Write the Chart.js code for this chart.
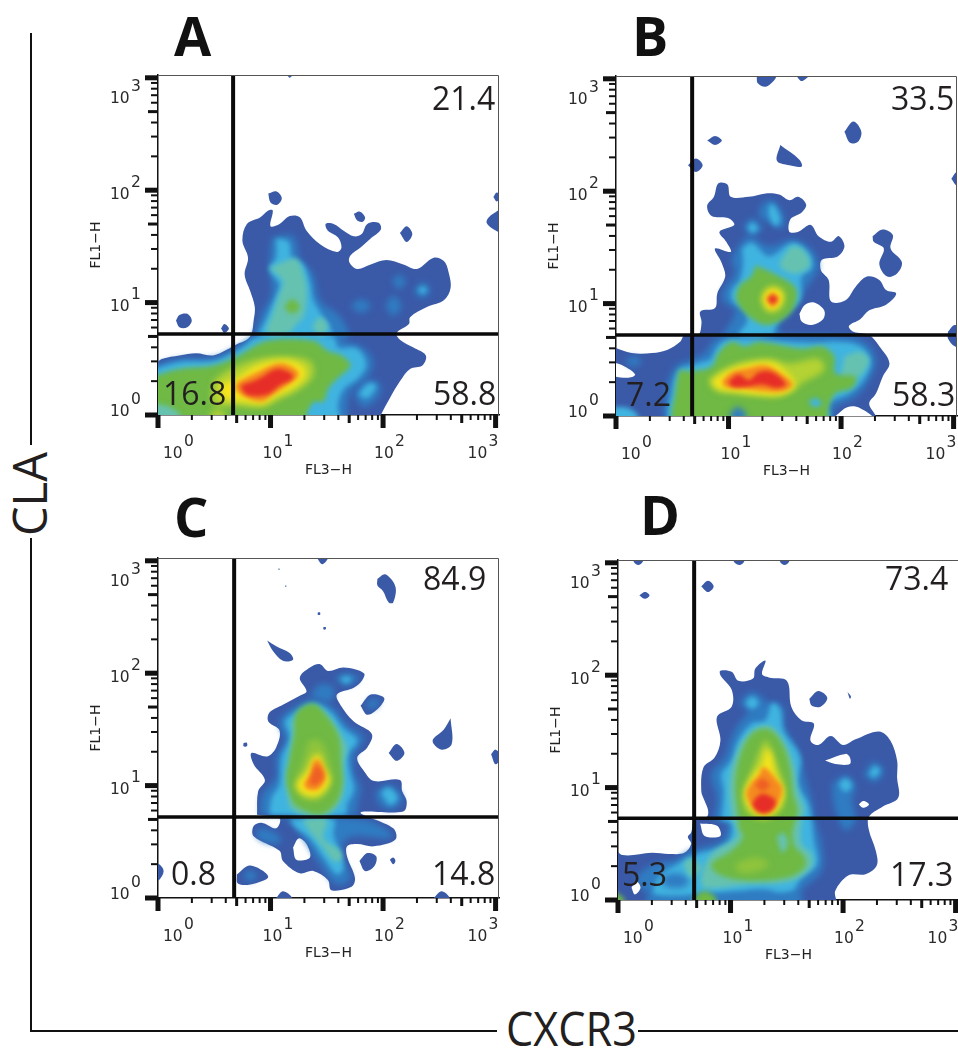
<!DOCTYPE html>
<html>
<head>
<meta charset="utf-8">
<script src="https://cdn.jsdelivr.net/npm/chart.js@4"></script>
<style>
  html, body { margin: 0; padding: 0; background: #fff; overflow: hidden; width: 958px; height: 1049px; }
  canvas { position: absolute; }
  .rule { position: absolute; background: #111; }
  .txt { position: absolute; white-space: nowrap; line-height: 1; color: #231f20; font-family: "Open Sans", sans-serif; }
  .pct { font-size: 32px; }
  .letter { font-size: 54px; font-weight: 700; color: #111; }
  .big { font-size: 47px; }
</style>
</head>
<body>
<script>
// axis ticks (FL3-H and FL1-H, both log)
const tickValues = [1,2,3,4,5,6,7,8,9,10,20,30,40,50,60,70,80,90,100,200,300,400,500,600,700,800,900,1000];
const tickExponents = ['0','1','2','3'];

// quadrant gates per panel: [FL3-H, FL1-H]
const gatesA = [4.65, 5.25];
const gatesB = [4.75, 5.25];
const gatesC = [4.75, 5.25];
const gatesD = [4.75, 5.35];

// quadrant percentages per panel
const pctA = ['21.4', '16.8', '58.8'];
const pctB = ['33.5', '7.2', '58.3'];
const pctC = ['84.9', '0.8', '14.8'];
const pctD = ['73.4', '5.3', '17.3'];

// density contours: [FL3-H, FL1-H] in hundredths of a decade
// panel A
const aBlue = [[-3,45],[4,50],[19,53],[34,55],[49,53],[61,58],[70,63],[79,67],[83,72],[85,84],[86,96],[82,110],[77,125],[80,140],[75,155],[79,170],[91,176],[98,182],[102,182],[100,168],[108,170],[117,177],[126,176],[132,164],[144,152],[159,145],[163,149],[160,158],[151,164],[149,170],[156,170],[165,164],[174,159],[181,161],[186,170],[196,171],[198,165],[189,157],[180,149],[171,142],[170,136],[177,130],[189,134],[203,138],[218,134],[230,130],[245,140],[254,137],[258,128],[260,113],[254,102],[239,96],[224,87],[223,81],[212,73],[215,67],[227,60],[238,53],[235,44],[224,41],[215,30],[206,15],[198,0],[195,-7],[-3,-7]];
const aBlob1 = [[98,197],[105,199],[110,193],[106,187],[100,189]];
const aBlob2 = [[174,179],[179,181],[184,176],[182,172],[177,173]];
const aBlob3 = [[215,162],[221,168],[226,161],[221,154]];
const aBlob4 = [[298,194],[301,198],[305,194],[301,190]];
const aBlob5 = [[302,182],[294,176],[292,171],[297,166],[305,163]];
const aBlob6 = [[16,84],[19,89],[26,90],[30,84],[26,78],[19,78]];
const aBlob7 = [[56,77],[59,81],[63,77],[59,73]];
const aBlob8 = [[114,304],[120,304],[117,300]];
const aMidTop = [[101,158],[120,159],[126,140],[138,125],[144,102],[162,87],[168,69],[88,69],[91,87],[101,108],[99,131]];
const aMid1 = [[227,110],[235,118],[242,111],[235,104]];
const aMid2 = [[202,97],[209,106],[216,97],[209,88]];
const aMid3 = [[208,119],[214,125],[220,119],[214,112]];
const aMid4 = [[171,97],[180,103],[189,97],[180,91]];
const aMidLow = [[-3,44],[19,50],[49,51],[64,57],[76,64],[88,71],[158,71],[165,66],[182,60],[191,48],[186,33],[172,22],[168,10],[166,-7],[-3,-7]];
const aMid5 = [[174,18],[183,30],[196,29],[197,18],[183,7]];
const aCyanTop = [[105,157],[116,154],[119,140],[129,134],[135,118],[138,102],[147,87],[153,78],[154,69],[91,69],[97,87],[105,106],[108,116],[99,130],[105,140]];
const aCyanLow = [[-3,41],[19,47],[49,48],[64,54],[76,61],[88,69],[156,69],[160,60],[177,59],[185,45],[178,33],[165,23],[160,10],[159,-7],[-3,-7]];
const aCyan1 = [[231,111],[235,114],[239,111],[235,108]];
const aCyan2 = [[178,18],[187,28],[194,26],[186,15]];
const aTealTop = [[99,131],[114,137],[123,139],[131,119],[132,102],[129,87],[123,81],[116,73],[97,73],[102,90],[108,108],[111,119]];
const aTeal1 = [[137,79],[144,87],[151,79],[144,70]];
const aGreenSpot = [[112,96],[119,103],[126,96],[119,90]];
const aGreenLow = [[-3,35],[19,41],[49,44],[70,52],[97,66],[138,66],[151,57],[163,53],[171,44],[159,32],[151,23],[147,12],[138,11],[132,0],[129,-7],[-3,-7]];
const aTeal2 = [[-3,10],[8,8],[20,0],[18,-7],[-3,-7]];
const aCyan3 = [[135,0],[141,10],[147,0],[141,-5]];
const aLime = [[49,30],[61,39],[85,49],[111,52],[135,48],[138,35],[126,23],[108,14],[93,7],[73,8],[49,10]];
const aLime2 = [[45,0],[52,5],[61,0],[52,-4]];
const aYellow = [[55,27],[70,33],[88,44],[111,49],[128,44],[131,35],[120,24],[105,17],[93,10],[76,12],[58,15]];
const aOrange = [[70,29],[88,38],[108,46],[122,41],[125,35],[114,26],[102,18],[92,12],[76,17],[69,23]];
const aRed = [[73,26],[89,32],[105,41],[117,38],[120,33],[108,26],[97,18],[79,18]];

// panel B
const bBlue = [[-4,62],[14,56],[32,56],[46,59],[57,66],[61,72],[73,72],[76,83],[75,93],[88,96],[90,109],[97,124],[94,136],[88,149],[102,146],[98,155],[92,164],[105,170],[100,176],[85,178],[81,187],[87,195],[91,207],[99,206],[102,195],[118,195],[133,198],[145,197],[154,192],[162,195],[169,188],[165,181],[155,175],[154,164],[162,164],[173,170],[180,160],[191,155],[198,160],[203,151],[197,142],[183,139],[182,130],[189,121],[191,102],[204,103],[213,115],[223,124],[234,121],[240,112],[249,109],[240,99],[225,94],[217,86],[207,80],[211,75],[225,72],[234,62],[243,47],[237,35],[231,20],[225,11],[231,0],[232,-5],[-4,-5]];
const bBlob1 = [[125,303],[142,303],[140,298],[133,293],[126,296]];
const bBlob2 = [[160,303],[171,303],[165,298]];
const bBlob3 = [[203,253],[211,262],[218,253],[215,244],[208,243]];
const bBlob4 = [[81,245],[88,249],[94,245],[88,241]];
const bBlob5 = [[64,223],[71,229],[77,223],[71,217]];
const bBlob6 = [[146,241],[163,228],[165,222],[154,223],[143,227]];
const bBlob7 = [[298,211],[303,217],[309,211],[303,205]];
const bBlob8 = [[295,75],[301,81],[309,75],[308,62],[301,62],[295,69]];
const bBlob9 = [[228,160],[237,166],[246,161],[244,149],[254,137],[250,127],[241,124],[234,135],[238,149],[229,155]];
const bMid1 = [[130,189],[139,192],[149,178],[148,167],[136,172],[127,178]];
const bMid2 = [[113,168],[121,176],[130,167],[121,160]];
const bMidBody = [[109,151],[118,160],[136,151],[157,157],[174,148],[180,133],[174,121],[165,108],[154,90],[145,82],[145,71],[96,71],[103,85],[106,94],[95,103],[97,115],[106,127],[103,139]];
const bMidLow = [[79,56],[88,68],[99,71],[201,71],[222,65],[231,50],[225,32],[213,17],[195,8],[189,-5],[47,-5],[45,23],[53,44],[67,50]];
const bMid3 = [[8,48],[15,53],[23,48],[15,44]];
const bCyan1 = [[136,187],[140,188],[146,175],[142,169],[136,178]];
const bCyan2 = [[117,168],[121,172],[126,167],[121,163]];
const bCyanBody = [[112,149],[121,154],[136,142],[157,154],[171,145],[174,132],[165,124],[164,103],[148,89],[142,80],[139,72],[109,72],[116,83],[115,93],[103,103],[103,112],[110,121],[113,136]];
const bCyanLow = [[84,50],[93,65],[106,69],[174,65],[195,66],[217,62],[226,48],[220,32],[207,20],[189,11],[189,-5],[50,-5],[50,23],[56,41],[67,45]];
const bCyan3 = [[-2,8],[11,7],[20,0],[17,-5],[-4,-5]];
const bTeal1 = [[145,136],[157,151],[168,146],[172,134],[161,127],[149,130]];
const bTeal2 = [[203,53],[217,57],[225,50],[216,35],[201,32]];
const bGreenBody = [[124,134],[142,126],[160,113],[156,93],[136,81],[120,87],[107,103],[110,116],[120,124]];
const bGreenLow = [[56,41],[67,40],[85,44],[91,56],[103,66],[115,62],[127,66],[165,60],[183,62],[194,53],[195,38],[213,35],[210,25],[195,20],[189,8],[186,-5],[53,-5],[53,23]];
const bMid4 = [[100,0],[108,8],[116,0],[108,-5]];
const bCyan4 = [[171,13],[177,16],[183,11],[176,8]];
const bYellowEye = [[129,104],[132,111],[139,115],[148,111],[149,102],[143,94],[134,94]];
const bOrangeEye = [[133,104],[139,110],[145,104],[139,97]];
const bRedEye = [[135,104],[139,107],[143,104],[139,100]];
const bLime = [[82,32],[94,41],[112,48],[136,51],[154,47],[180,51],[185,41],[165,29],[157,22],[142,17],[106,20],[88,23]];
const bYellow = [[85,31],[97,39],[113,45],[136,48],[148,42],[159,28],[149,20],[133,19],[106,22],[90,25]];
const bOrange = [[94,31],[103,39],[115,42],[133,45],[145,39],[157,28],[148,22],[133,22],[109,25],[97,26]];
const bRed = [[100,31],[109,37],[118,32],[127,39],[139,39],[151,28],[142,25],[130,28],[115,26],[103,26]];
const bHole1 = [[195,0],[206,8],[217,7],[228,-2],[195,-5]];
const bHole2 = [[-4,48],[6,45],[17,37],[10,34],[-4,37]];
const bHole3 = [[163,91],[168,99],[176,101],[185,94],[184,86],[174,81],[165,84]];

// panel C
const cBlue = [[88,74],[89,95],[95,105],[85,119],[83,129],[97,126],[105,134],[108,149],[98,157],[99,165],[111,172],[126,180],[132,184],[126,196],[135,205],[144,208],[151,202],[165,205],[183,200],[181,193],[174,187],[159,181],[162,172],[174,157],[190,146],[186,134],[177,125],[183,113],[192,104],[215,105],[217,95],[221,86],[218,77],[180,76],[209,62],[211,52],[192,46],[177,48],[168,46],[168,37],[175,18],[172,10],[154,7],[151,16],[138,24],[126,22],[111,33],[108,42],[85,55],[85,64],[92,67],[105,62],[108,71]];
const cBlob1 = [[97,229],[105,224],[117,218],[120,212],[111,211],[102,220]];
const cBlob2 = [[141,303],[151,303],[146,297]];
const cBlob3 = [[195,284],[202,288],[211,277],[209,263],[205,263],[200,273],[195,278]];
const cBlob4 = [[180,171],[189,181],[201,178],[196,169],[186,163]];
const cBlob5 = [[260,160],[261,137],[252,132],[244,140],[254,150]];
const cBlob6 = [[205,129],[212,137],[219,129],[212,122]];
const cBlob7 = [[296,128],[300,132],[305,126],[300,119]];
const cBlob8 = [[179,33],[186,40],[194,37],[192,28],[184,24]];
const cBlob9 = [[206,34],[209,36],[211,33],[209,30]];
const cBlob10 = [[-3,30],[1,30],[5,24],[1,16],[-3,16]];
const cBlob11 = [[70,21],[82,29],[98,19],[82,12],[71,13]];
const cBlob12 = [[105,0],[111,6],[119,0],[111,-4]];
const cBlob13 = [[245,0],[252,6],[259,0],[252,-4]];
const cDot1 = [[142,254],[144,254],[144,252],[142,252]];
const cDot2 = [[147,241],[149,241],[149,239],[147,239]];
const cDot3 = [[76,138],[79,138],[79,135],[76,135]];
const cDot4 = [[107,293],[108,293],[108,292],[107,292]];
const cDot5 = [[113,278],[114,278],[114,277],[113,277]];
const cMidBody = [[91,74],[93,92],[105,107],[105,125],[113,140],[108,157],[120,169],[138,177],[156,169],[168,154],[183,143],[175,128],[174,113],[180,98],[177,83],[175,74]];
const cMidLow = [[111,70],[180,70],[206,59],[206,53],[183,55],[168,53],[163,39],[171,18],[159,12],[144,30],[132,49],[120,65]];
const cMid1 = [[86,57],[92,62],[108,55],[108,49],[94,50]];
const cMid2 = [[156,195],[167,200],[178,196],[168,189]];
const cMid3 = [[135,180],[144,190],[156,187],[153,175]];
const cMid4 = [[193,94],[205,101],[217,89],[209,79],[197,83]];
const cMid5 = [[76,21],[82,25],[88,19],[80,15]];
const cMid6 = [[184,171],[190,177],[197,175],[191,168]];
const cCyanBody = [[99,74],[101,89],[108,101],[110,125],[117,143],[113,157],[123,166],[138,173],[153,166],[165,151],[177,140],[169,128],[171,110],[174,97],[168,83],[166,74]];
const cCyanLow = [[117,70],[156,70],[156,56],[162,39],[165,27],[159,21],[147,36],[135,53],[123,62]];
const cCyan1 = [[162,195],[167,197],[172,195],[167,191]];
const cCyan2 = [[198,94],[205,98],[213,89],[206,83]];
const cTealBody = [[117,80],[114,101],[117,125],[120,146],[120,157],[138,169],[151,162],[162,146],[168,134],[165,119],[165,101],[162,86],[150,74],[129,74]];
const cTealLow = [[128,70],[150,70],[147,53],[162,42],[163,34],[156,33],[146,46],[135,59]];
const cGreen = [[120,84],[114,104],[117,125],[121,146],[123,165],[138,173],[150,162],[161,143],[163,119],[164,101],[158,84],[144,74],[129,78]];
const cOlive = [[134,140],[144,140],[151,125],[154,104],[144,88],[129,89],[122,101],[129,122]];
const cYellow = [[137,125],[143,128],[148,116],[153,104],[143,91],[129,92],[123,101],[132,113]];
const cOrange = [[138,122],[143,123],[149,108],[143,97],[132,97],[130,102],[135,110]];
const cDeep = [[139,117],[143,117],[147,108],[141,101],[135,102]];
const cHole = [[120,45],[125,53],[132,48],[135,36],[123,34]];

// panel D
const dBlue = [[-3,48],[4,40],[30,42],[45,41],[59,42],[65,50],[62,56],[65,60],[68,71],[79,74],[80,80],[77,88],[74,97],[76,118],[86,127],[91,142],[88,163],[101,172],[101,187],[91,200],[91,204],[101,203],[107,195],[120,197],[122,206],[131,213],[128,201],[134,198],[150,195],[154,172],[163,160],[174,157],[171,142],[178,138],[189,146],[200,138],[211,143],[232,150],[242,142],[248,124],[248,109],[249,91],[235,83],[223,74],[223,62],[229,44],[230,31],[220,23],[205,22],[193,8],[193,-5],[-3,-5]];
const dBlob1 = [[74,279],[80,284],[85,279],[80,274]];
const dBlob2 = [[19,271],[24,274],[28,271],[24,268]];
const dBlob3 = [[14,306],[22,306],[22,301],[18,298],[14,301]];
const dBlob4 = [[103,306],[112,306],[112,301],[108,298],[103,301]];
const dBlob5 = [[144,306],[152,306],[152,301],[148,298],[144,301]];
const dBlob6 = [[170,179],[178,186],[186,180],[180,172],[172,173]];
const dBlob7 = [[204,185],[207,181],[206,179]];
const dMidBody = [[85,71],[88,91],[83,112],[95,127],[101,145],[110,160],[128,175],[146,172],[148,154],[160,133],[166,109],[172,89],[175,71],[181,50],[181,26],[163,8],[163,-5],[27,-5],[27,8],[30,23],[50,35],[65,44],[92,53],[97,68]];
const dMid1 = [[15,20],[30,31],[50,32],[45,11],[24,8]];
const dMid2 = [[108,176],[119,185],[131,176],[119,166]];
const dMid3 = [[218,111],[227,123],[236,115],[229,105]];
const dMid4 = [[190,103],[202,111],[211,102],[208,89],[211,71],[202,62],[193,80]];
const dMid6 = [[38,20],[50,24],[62,20],[60,12],[42,12]];
const dCyanBody = [[92,71],[94,97],[92,112],[101,124],[107,142],[119,157],[131,160],[137,175],[144,170],[147,151],[162,127],[160,103],[169,86],[172,71],[174,53],[177,32],[163,20],[154,8],[110,8],[33,5],[36,20],[53,32],[68,40],[97,50],[101,68]];
const dCyan1 = [[113,175],[119,181],[125,175],[119,170]];
const dCyan2 = [[223,112],[228,119],[233,115],[227,109]];
const dCyan3 = [[196,103],[202,108],[208,102],[202,96]];
const dTealBody = [[101,71],[99,103],[104,127],[116,148],[134,155],[147,142],[156,121],[160,97],[166,80],[163,71],[163,50],[172,41],[172,29],[154,17],[116,14],[77,11],[74,20],[83,41],[105,56],[104,68]];
const dTeal1 = [[58,32],[65,37],[74,29],[65,20]];
const dGreen = [[107,71],[104,103],[108,127],[119,148],[134,152],[146,139],[153,118],[156,94],[160,80],[158,71],[155,60],[157,48],[166,38],[166,29],[151,20],[116,17],[89,23],[83,32],[101,44],[111,56],[107,65]];
const dGreen2 = [[65,0],[77,8],[88,0],[77,-5]];
const dGreen3 = [[-3,8],[6,0],[3,-5],[-3,-5]];
const dTeal2 = [[141,56],[147,60],[151,50],[146,42]];
const dMid5 = [[110,0],[116,7],[137,7],[138,-5],[110,-5]];
const dOliveLow = [[104,32],[122,38],[134,32],[122,25],[107,25]];
const dLime = [[119,115],[131,142],[135,136],[143,115],[148,97],[144,80],[131,72],[116,77],[111,94]];
const dYellow = [[131,133],[135,133],[140,112],[147,97],[143,83],[131,75],[119,80],[113,94],[119,109],[128,120]];
const dOrange = [[128,118],[132,117],[140,108],[146,99],[141,84],[131,77],[120,83],[114,94],[119,105],[125,111]];
const dDeep = [[122,102],[128,108],[135,102],[128,97]];
const dRed = [[119,86],[125,93],[131,94],[140,88],[137,80],[129,77],[122,80]];
const dHole1 = [[184,124],[202,130],[206,127],[206,121],[193,121]];
const dHole2 = [[214,85],[218,88],[223,85],[218,82]];
const dHole3 = [[73,68],[88,66],[91,57],[77,57]];
const dHole4 = [[12,11],[16,17],[20,11],[15,5]];

const colors = { blue:'#3a5aa8', mid:'#2f7cc2', cyan:'#40b4e0', teal:'#66c2b0', green:'#6fb944', olive:'#8fc43c', lime:'#b4d233', yellow:'#f7e41b', orange:'#f58a20', deep:'#ee5f24', red:'#e62d27', white:'#ffffff' };
const blurs = { blue:0.5, mid:3, cyan:2.5, teal:2.5, green:2.5, olive:3, lime:3, yellow:3, orange:2, deep:2, red:2, white:0.5 };

const panels = [
  { left:158, top:75, gates:gatesA, layers:[
    ['blue',[aBlue,aBlob1,aBlob2,aBlob3,aBlob4,aBlob5,aBlob6,aBlob7,aBlob8]],
    ['mid',[aMidTop,aMid1,aMid2,aMid3,aMid4,aMidLow,aMid5]],
    ['cyan',[aCyanTop,aCyanLow,aCyan1,aCyan2]],
    ['teal',[aTealTop,aTeal1]],
    ['green',[aGreenSpot,aGreenLow]],
    ['teal',[aTeal2]],
    ['cyan',[aCyan3]],
    ['lime',[aLime,aLime2]],
    ['yellow',[aYellow]],
    ['orange',[aOrange]],
    ['red',[aRed]]
  ]},
  { left:616, top:76, gates:gatesB, layers:[
    ['blue',[bBlue,bBlob1,bBlob2,bBlob3,bBlob4,bBlob5,bBlob6,bBlob7,bBlob8,bBlob9]],
    ['white',[bHole1,bHole2,bHole3]],
    ['mid',[bMid1,bMid2,bMidBody,bMidLow,bMid3]],
    ['cyan',[bCyan1,bCyan2,bCyanBody,bCyanLow,bCyan3]],
    ['teal',[bTeal1,bTeal2]],
    ['green',[bGreenBody,bGreenLow]],
    ['mid',[bMid4]],
    ['cyan',[bCyan4]],
    ['yellow',[bYellowEye]],
    ['orange',[bOrangeEye]],
    ['red',[bRedEye]],
    ['lime',[bLime]],
    ['yellow',[bYellow]],
    ['orange',[bOrange]],
    ['red',[bRed]]
  ]},
  { left:158, top:558, gates:gatesC, layers:[
    ['blue',[cBlue,cBlob1,cBlob2,cBlob3,cBlob4,cBlob5,cBlob6,cBlob7,cBlob8,cBlob9,cBlob10,cBlob11,cBlob12,cBlob13,cDot1,cDot2,cDot3,cDot4,cDot5]],
    ['white',[cHole]],
    ['mid',[cMidBody,cMidLow,cMid1,cMid2,cMid3,cMid4,cMid5,cMid6]],
    ['cyan',[cCyanBody,cCyanLow,cCyan1,cCyan2]],
    ['teal',[cTealBody,cTealLow]],
    ['green',[cGreen]],
    ['olive',[cOlive]],
    ['yellow',[cYellow]],
    ['orange',[cOrange]],
    ['deep',[cDeep]]
  ]},
  { left:618, top:560, gates:gatesD, layers:[
    ['blue',[dBlue,dBlob1,dBlob2,dBlob3,dBlob4,dBlob5,dBlob6,dBlob7]],
    ['mid',[dMidBody,dMid1,dMid2,dMid3,dMid4]],
    ['cyan',[dCyanBody,dCyan1,dCyan2,dCyan3]],
    ['mid',[dMid6]],
    ['teal',[dTealBody,dTeal1]],
    ['green',[dGreen,dGreen2,dGreen3]],
    ['teal',[dTeal2]],
    ['mid',[dMid5]],
    ['olive',[dOliveLow]],
    ['lime',[dLime]],
    ['yellow',[dYellow]],
    ['orange',[dOrange]],
    ['deep',[dDeep]],
    ['red',[dRed]],
    ['white',[dHole1,dHole2,dHole3,dHole4]]
  ]}
];

const plotW = 341, plotH = 340, padLeft = 70, padTop = 15, padBottom = 64, padRight = 4;
const xMax = 1072, yMax = 1059;
// nudges of the tick labels against their ticks
const xLabelDx = [5, -8, -9, -28];
const yLabelDy = [1, 8, 9, 25];

function toXY(p) {
  return { x: Math.pow(10, p[0] / 100), y: Math.pow(10, p[1] / 100) };
}

function contourDatasets(panel) {
  const out = [];
  panel.layers.forEach(([name, shapes]) => {
    shapes.forEach(shape => {
      const pts = shape.concat([shape[0]]).map(toXY);
      out.push({
        data: pts, showLine: true, fill: 'shape', tension: 0.35, pointRadius: 0, borderWidth: 0,
        backgroundColor: colors[name], borderColor: colors[name], softness: blurs[name], order: -out.length
      });
    });
  });
  return out;
}

// soft colour steps, like the smoothed density plot
const softEdges = {
  id: 'softEdges',
  beforeDatasetsDraw(chart) {
    chart.ctx.filter = 'blur(' + chart.data.datasets[0].softness + 'px)';
  },
  afterDatasetDraw(chart, args) {
    const next = chart.data.datasets[args.index + 1];
    chart.ctx.filter = next && next.softness ? 'blur(' + next.softness + 'px)' : 'none';
  },
  afterDatasetsDraw(chart) {
    chart.ctx.filter = 'none';
  }
};

const axisMarks = {
  id: 'axisMarks',
  afterDraw(chart) {
    const { ctx, chartArea: a, scales: { x, y } } = chart;
    ctx.save();
    ctx.strokeStyle = '#555';
    ctx.lineWidth = 1;
    ctx.beginPath();
    ctx.moveTo(a.left, a.top + 0.5);
    ctx.lineTo(a.right - 0.5, a.top + 0.5);
    ctx.lineTo(a.right - 0.5, a.bottom);
    ctx.stroke();
    ctx.fillStyle = '#111';
    tickValues.forEach(v => {
      const lead = v / Math.pow(10, Math.floor(Math.log10(v) + 1e-9));
      const major = Math.abs(lead - 1) < 1e-9, half = Math.abs(lead - 5) < 1e-9;
      const w = major ? 5 : half ? 3 : 2;
      const px = x.getPixelForValue(v), py = y.getPixelForValue(v);
      ctx.fillRect(px - w / 2, a.bottom, w, major ? 13 : half ? 8 : 5);
      const len = major ? 13 : half ? 10 : 7;
      ctx.fillRect(a.left - len, py - w / 2, len, w);
    });
    ctx.fillStyle = '#2a2a2a';
    ctx.font = '15.5px "DejaVu Sans"';
    ctx.textAlign = 'left';
    ctx.textBaseline = 'alphabetic';
    tickExponents.forEach((e, i) => {
      const v = Math.pow(10, i);
      const bx = x.getPixelForValue(v) + xLabelDx[i];
      ctx.fillText('10', bx, a.bottom + 43);
      ctx.fillText(e, bx + 21, a.bottom + 31);
      const by = y.getPixelForValue(v) + yLabelDy[i];
      ctx.fillText('10', a.left - 48, by);
      ctx.fillText(e, a.left - 27, by - 12);
    });
    ctx.restore();
  }
};

function lockSize(size) {
  return scale => { if (scale.isHorizontal()) scale.height = size; else scale.width = size; };
}

panels.forEach(panel => {
  const canvas = document.createElement('canvas');
  canvas.width = padLeft + plotW + padRight;
  canvas.height = padTop + plotH + padBottom;
  canvas.style.left = (panel.left - padLeft) + 'px';
  canvas.style.top = (panel.top - padTop) + 'px';
  document.body.appendChild(canvas);

  const datasets = contourDatasets(panel);
  const gateStyle = { showLine: true, fill: false, pointRadius: 0, borderColor: '#0a0a0a', clip: false, order: -1000 };
  datasets.push(Object.assign({ data: [{ x: panel.gates[0], y: 1 }, { x: panel.gates[0], y: yMax }], borderWidth: 4, borderCapStyle: 'butt' }, gateStyle));
  datasets.push(Object.assign({ data: [{ x: 1, y: panel.gates[1] }, { x: xMax, y: panel.gates[1] }], borderWidth: 3.5, borderCapStyle: 'butt' }, gateStyle));

  new Chart(canvas, {
    type: 'scatter',
    data: { datasets },
    options: {
      responsive: false,
      animation: false,
      events: [],
      layout: { padding: { top: padTop, right: padRight } },
      plugins: { legend: { display: false }, tooltip: { enabled: false } },
      scales: {
        x: {
          type: 'logarithmic', min: 1, max: xMax,
          afterFit: lockSize(padBottom),
          afterBuildTicks: s => { s.ticks = tickValues.map(v => ({ value: v })); },
          grid: { display: false, drawTicks: false },
          border: { color: '#111', width: 1.5 },
          ticks: { display: false },
          title: { display: true, text: 'FL3\u2212H', color: '#222', padding: 0, font: { family: 'DejaVu Sans', size: 14 } }
        },
        y: {
          type: 'logarithmic', min: 1, max: yMax,
          afterFit: lockSize(padLeft),
          afterBuildTicks: s => { s.ticks = tickValues.map(v => ({ value: v })); },
          grid: { display: false, drawTicks: false },
          border: { color: '#111', width: 1.5 },
          ticks: { display: false },
          title: { display: true, text: 'FL1\u2212H', color: '#222', padding: 0, font: { family: 'DejaVu Sans', size: 14 } }
        }
      }
    },
    plugins: [softEdges, axisMarks]
  });
});

function addText(cls, text, left, top, extra) {
  const el = document.createElement('div');
  el.className = 'txt ' + cls;
  el.textContent = text;
  el.style.left = left + 'px';
  el.style.top = top + 'px';
  if (extra) el.style.cssText += extra;
  document.body.appendChild(el);
}

function addRule(left, top, w, h) {
  const el = document.createElement('div');
  el.className = 'rule';
  el.style.cssText = 'left:' + left + 'px;top:' + top + 'px;width:' + w + 'px;height:' + h + 'px';
  document.body.appendChild(el);
}

// quadrant numbers, top-right / bottom-left / bottom-right
[[pctA, 432, 82, 163, 377, 433, 377], [pctB, 891, 82, 626, 378, 892, 378],
 [pctC, 423, 562, 171, 857, 432, 857], [pctD, 885, 562, 622, 858, 890, 858]].forEach(r => {
  addText('pct', r[0][0], r[1], r[2]);
  addText('pct', r[0][1], r[3], r[4]);
  addText('pct', r[0][2], r[5], r[6]);
});

addText('letter', 'A', 174, 8);
addText('letter', 'B', 632, 8);
addText('letter', 'C', 174, 489);
addText('letter', 'D', 640, 487);

addRule(30, 33, 2, 412);
addRule(30, 538, 2, 494);
addRule(30, 1030, 467, 2);
addRule(638, 1030, 320, 2);
addText('big', 'CLA', 6, 536, 'transform-origin:0 0;transform:rotate(-90deg);');
addText('big', 'CXCR3', 506, 1005, 'transform-origin:0 0;transform:scaleX(0.92);');
</script>
</body>
</html>
